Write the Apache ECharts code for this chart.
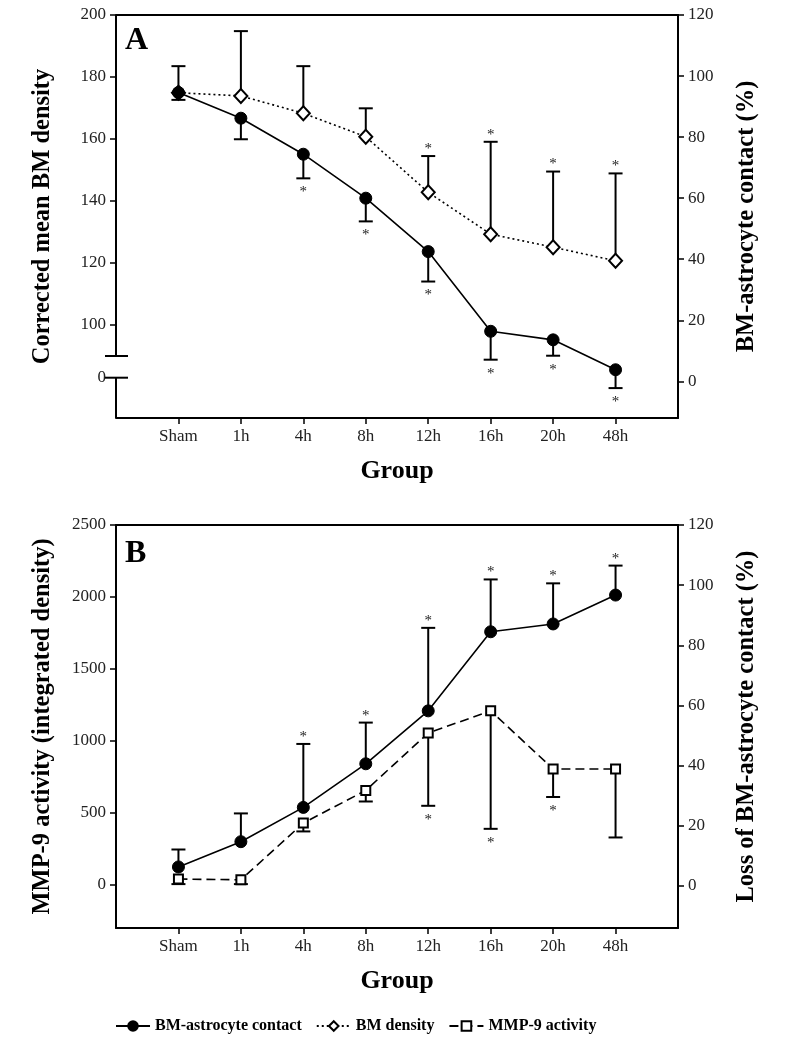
<!DOCTYPE html>
<html>
<head>
<meta charset="utf-8">
<script src="https://cdn.jsdelivr.net/npm/echarts@6.0.0/dist/echarts.min.js"></script>
<style>
  html, body { margin: 0; padding: 0; background: #fff; }
  #chart { width: 789px; height: 1050px; }
</style>
</head>
<body>
<div id="chart"></div>
<script>
// x axis groups
var groups = ['Sham', '1h', '4h', '8h', '12h', '16h', '20h', '48h'];

// panel A - BM-astrocyte contact (%), right axis, error bars go down
var contactA = [94.6, 86.2, 74.4, 60.0, 42.5, 16.4, 13.6, 3.8];
var contactAErr = [92.2, 79.3, 66.5, 52.4, 32.7, 7.1, 8.4, -2.2];
var contactASig = [0, 0, 1, 1, 1, 1, 1, 1];

// panel A - corrected mean BM density, left axis, error bars go up
var densityA = [174.9, 173.9, 168.3, 160.7, 142.8, 129.3, 125.1, 120.7];
var densityAErr = [183.5, 194.8, 183.5, 169.9, 154.5, 159.1, 149.5, 148.9];
var densityASig = [0, 0, 0, 0, 1, 1, 1, 1];

// panel B - loss of BM-astrocyte contact (%), right axis, error bars go up
var contactB = [6.3, 14.7, 26.1, 40.6, 58.2, 84.5, 87.1, 96.7];
var contactBErr = [12.1, 24.1, 47.2, 54.3, 85.8, 101.9, 100.6, 106.5];
var contactBSig = [0, 0, 1, 1, 1, 1, 1, 1];

// panel B - MMP-9 activity (integrated density), left axis, error bars go down
var mmp9 = [40, 35, 429, 656, 1055, 1209, 805, 805];
var mmp9Err = [5, 5, 371, 579, 549, 389, 610, 329];
var mmp9Sig = [0, 0, 0, 0, 1, 1, 1, 0];

// tick labels
var ticksALeft = [100, 120, 140, 160, 180, 200];
var ticksARight = [0, 20, 40, 60, 80, 100, 120];
var ticksBLeft = [0, 500, 1000, 1500, 2000, 2500];
var ticksBRight = [0, 20, 40, 60, 80, 100, 120];
// left axis of A is broken: "0" sits just under the break
var breakTop = 90, brokenZero = 83;

var serif = 'Liberation Serif';
var xCats = [' '].concat(groups, ['  ']);
var gridA = { left: 116, right: 111, top: 15, height: 403 };
var gridB = { left: 116, right: 111, top: 525, height: 403 };

function pairs(vals) {
  return groups.map(function (g, i) { return [g, vals[i]]; });
}
function errData(vals, errs, sig) {
  return groups.map(function (g, i) { return [g, vals[i], errs[i], sig[i]]; });
}

function renderErr(params, api) {
  var p = api.coord([api.value(0), api.value(1)]);
  var e = api.coord([api.value(0), api.value(2)]);
  var up = e[1] < p[1];
  var ls = { stroke: '#000', lineWidth: 2 };
  var kids = [
    { type: 'line', shape: { x1: p[0], y1: p[1], x2: e[0], y2: e[1] }, style: ls },
    { type: 'line', shape: { x1: e[0] - 7, y1: e[1], x2: e[0] + 7, y2: e[1] }, style: ls }
  ];
  if (api.value(3)) {
    kids.push({
      type: 'text', x: e[0], y: e[1] + (up ? -7 : 14),
      style: { text: '*', fontFamily: serif, fontSize: 15, fill: '#222', align: 'center', verticalAlign: 'middle' }
    });
  }
  return { type: 'group', children: kids };
}

function xAxes(gi) {
  var lab = { fontFamily: serif, fontSize: 17, color: '#222', margin: 10,
    interval: function (i) { return i > 0 && i < xCats.length - 1; } };
  return [{
    type: 'category', gridIndex: gi, data: xCats, boundaryGap: false,
    axisLine: { onZero: false, lineStyle: { color: '#000', width: 2 } },
    axisTick: { length: 6, lineStyle: { color: '#000', width: 1.5 },
      interval: function (i) { return i > 0 && i < xCats.length - 1; } },
    axisLabel: lab,
    name: 'Group', nameLocation: 'middle', nameGap: 40,
    nameTextStyle: { fontFamily: serif, fontSize: 26, fontWeight: 'bold', color: '#000' }
  }, {
    type: 'category', gridIndex: gi, data: xCats, boundaryGap: false, position: 'top',
    axisLine: { onZero: false, lineStyle: { color: '#000', width: 2 } },
    axisTick: { show: false }, axisLabel: { show: false }
  }];
}

function yAxis(gi, pos, min, max, ticks, labels, name, showLine, fmt) {
  return {
    type: 'value', gridIndex: gi, position: pos, min: min, max: max,
    splitLine: { show: false },
    axisLine: { show: showLine, lineStyle: { color: '#000', width: 2 } },
    axisTick: { show: true, length: 6, customValues: ticks, lineStyle: { color: '#000', width: 1.5 } },
    axisLabel: { customValues: labels, fontFamily: serif, fontSize: 17, color: '#222', margin: 10,
      formatter: fmt || function (v) { return String(v); } },
    name: name, nameLocation: 'middle', nameRotate: 90, nameGap: pos === 'left' ? 61 : 56,
    nameTextStyle: { fontFamily: serif, fontSize: 24.5, fontWeight: 'bold', color: '#000' }
  };
}

var chart = echarts.init(document.getElementById('chart'));

var lineCommon = { type: 'line', showSymbol: true, symbolKeepAspect: true, animation: false };

chart.setOption({
  animation: false,
  backgroundColor: '#fff',
  title: [
    { text: 'A', left: 120, top: 20, padding: 5,
      textStyle: { fontFamily: serif, fontSize: 32, fontWeight: 'bold', color: '#000' } },
    { text: 'B', left: 120, top: 533, padding: 5,
      textStyle: { fontFamily: serif, fontSize: 32, fontWeight: 'bold', color: '#000' } }
  ],
  legend: {
    data: ['BM-astrocyte contact', 'BM density', 'MMP-9 activity'],
    left: 110, top: 1013, itemWidth: 34, itemHeight: 12, itemGap: 14,
    textStyle: { fontFamily: serif, fontSize: 16, fontWeight: 'bold', color: '#000' },
    selectedMode: false
  },
  grid: [gridA, gridB],
  xAxis: xAxes(0).concat(xAxes(1)),
  yAxis: [
    yAxis(0, 'left', 70, 200, ticksALeft, [brokenZero].concat(ticksALeft),
      'Corrected mean BM density', false,
      function (v) { return v === brokenZero ? '0' : String(v); }),
    yAxis(0, 'right', -12, 120, ticksARight, ticksARight, 'BM-astrocyte contact (%)', true),
    yAxis(1, 'left', -300, 2500, ticksBLeft, ticksBLeft, 'MMP-9 activity (integrated density)', true),
    yAxis(1, 'right', -14, 120, ticksBRight, ticksBRight, 'Loss of BM-astrocyte contact (%)', true)
  ],
  series: [
    // panel A
    { type: 'custom', name: 'errDensityA', xAxisIndex: 0, yAxisIndex: 0, z: 1,
      renderItem: renderErr, encode: { x: 0, y: [1, 2] },
      data: errData(densityA, densityAErr, densityASig) },
    { type: 'custom', name: 'errContactA', xAxisIndex: 0, yAxisIndex: 1, z: 1,
      renderItem: renderErr, encode: { x: 0, y: [1, 2] },
      data: errData(contactA, contactAErr, contactASig) },
    Object.assign({}, lineCommon, {
      name: 'BM density', xAxisIndex: 0, yAxisIndex: 0, z: 2,
      symbol: 'diamond', symbolSize: [13, 14],
      lineStyle: { color: '#000', width: 1.6, type: [2, 3] },
      itemStyle: { color: '#fff', borderColor: '#000', borderWidth: 2 },
      data: pairs(densityA)
    }),
    Object.assign({}, lineCommon, {
      name: 'BM-astrocyte contact', xAxisIndex: 0, yAxisIndex: 1, z: 3,
      symbol: 'circle', symbolSize: 12,
      lineStyle: { color: '#000', width: 1.6, type: 'solid' },
      itemStyle: { color: '#000', borderColor: '#000', borderWidth: 1 },
      data: pairs(contactA)
    }),
    // panel B
    { type: 'custom', name: 'errMmp9', xAxisIndex: 2, yAxisIndex: 2, z: 1,
      renderItem: renderErr, encode: { x: 0, y: [1, 2] },
      data: errData(mmp9, mmp9Err, mmp9Sig) },
    { type: 'custom', name: 'errContactB', xAxisIndex: 2, yAxisIndex: 3, z: 1,
      renderItem: renderErr, encode: { x: 0, y: [1, 2] },
      data: errData(contactB, contactBErr, contactBSig) },
    Object.assign({}, lineCommon, {
      name: 'MMP-9 activity', xAxisIndex: 2, yAxisIndex: 2, z: 2,
      symbol: 'rect', symbolSize: 9,
      lineStyle: { color: '#000', width: 1.6, type: [9, 5] },
      itemStyle: { color: '#fff', borderColor: '#000', borderWidth: 2 },
      data: pairs(mmp9)
    }),
    Object.assign({}, lineCommon, {
      name: 'BM-astrocyte contact', xAxisIndex: 2, yAxisIndex: 3, z: 3,
      symbol: 'circle', symbolSize: 12,
      lineStyle: { color: '#000', width: 1.6, type: 'solid' },
      itemStyle: { color: '#000', borderColor: '#000', borderWidth: 1 },
      data: pairs(contactB)
    })
  ]
});

// broken left axis of panel A: two segments plus the break marks
var ax = gridA.left;
function yA(v) { return chart.convertToPixel({ yAxisIndex: 0 }, v); }
var axStyle = { stroke: '#000', lineWidth: 2 };
chart.setOption({
  graphic: [
    { type: 'line', shape: { x1: ax, y1: yA(200), x2: ax, y2: yA(breakTop) }, style: axStyle, z: 10 },
    { type: 'line', shape: { x1: ax, y1: yA(brokenZero), x2: ax, y2: yA(70) }, style: axStyle, z: 10 },
    { type: 'line', shape: { x1: ax - 11, y1: yA(breakTop), x2: ax + 12, y2: yA(breakTop) }, style: axStyle, z: 10 },
    { type: 'line', shape: { x1: ax - 11, y1: yA(brokenZero), x2: ax + 12, y2: yA(brokenZero) }, style: axStyle, z: 10 }
  ]
});
</script>
</body>
</html>
